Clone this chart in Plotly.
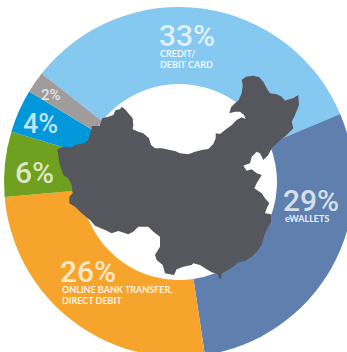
import plotly.graph_objects as go

# Payment method shares, clockwise from credit/debit card
methods = ["Credit/Debit Card", "eWallets", "Online Bank Transfer, Direct Debit", "Other A", "Other B", "Other C"]
shares = [33, 29, 26, 6, 4, 2]
slice_colors = ["#85C8F0", "#5F7FAF", "#F7A42C", "#6FA01F", "#0098DB", "#A09C9C"]

FIG_W = 358
FIG_H = 364
PIE_R = 175
MAP_COLOR = "#55575C"

# China silhouette, in figure pixels from the top-left corner
map_x = [57.3, 60, 65, 67, 71.7, 75, 80, 85, 88.3, 89.3, 91.7, 91.7, 99.3, 101, 102.3, 108.3, 113.3, 115.7, 120, 121.7,
         125, 128.3, 132.7, 133.3, 132.7, 138.3, 143.3, 149, 151, 155, 161.7, 170, 175, 180, 188.3, 195, 201.7, 208.3,
         213.3, 215.7, 215.7, 220, 225, 231.7, 236.7, 241.7, 245.7, 244, 240, 235, 229.3, 231, 235, 238.3, 241.7, 242.7,
         241.7, 246, 253.3, 259.3, 263.3, 266.7, 270, 276.7, 281.7, 285, 286.7, 293, 298.3, 299, 295, 291.7, 293.3,
         286.7, 278.3, 271.7, 268.3, 263.3, 260, 256.7, 251.7, 250, 243.3, 246.7, 251.7, 256.7, 261.7, 256.7, 254.3,
         261.7, 265, 269.3, 266.7, 265, 271, 271, 268.3, 264.3, 261.7, 257.3, 251.7, 245, 238.3, 233.3, 225, 221.7,
         221, 219, 217.7, 211.7, 205, 200, 193.3, 191.7, 183.3, 176.7, 174, 170, 165, 162.7, 156.7, 155, 160, 160,
         153.3, 148.3, 138.3, 133.3, 128.3, 118.3, 111.7, 105, 95, 90, 81.7, 75, 69.3, 69.3, 72.7, 71.7, 68.3, 63.3,
         59.3, 58.3]
map_y = [150, 147.7, 146.7, 147, 147.3, 145, 144, 142.7, 140, 135.7, 129.3, 126, 126, 121.7, 118.3, 116.7, 115, 110, 109.3, 106.7,
         109.3, 113.3, 118.3, 125, 129.3, 131.7, 133.3, 138.3, 145, 148.3, 148.3, 150, 151, 153.3, 154.3, 151.7, 150, 149,
         144, 138.3, 133.3, 134, 130, 125, 120, 117.3, 119, 115, 111.7, 111.7, 113.3, 107.3, 103.3, 100.7, 93.3, 85,
         80, 76.7, 75.7, 77.3, 81.7, 88.3, 93.3, 94.3, 96.7, 100.7, 100, 98.3, 95, 105, 115, 121.7, 128.3,
         135, 141.7, 148.3, 155, 160, 153.3, 151.7, 156.7, 163.3, 165.7, 170.7, 169.3, 173.3, 175, 183.3, 188.3,
         193.3, 198.3, 203.3, 208.3, 213.3, 214.3, 221.7, 226.7, 235, 245, 251, 256.7, 261, 262.3, 266.7, 271.7, 273.3,
         279, 278.3, 274, 272.3, 268.3, 265, 263.3, 265, 266.7, 269.3, 275, 274.3, 273.3, 265, 260, 255, 246.7, 236.7,
         231.7, 226.7, 226.7, 231.7, 234.3, 231, 233.3, 230, 225.7, 220, 213.3, 206.7, 203.3, 196.7, 193.3, 185, 178.3, 175,
         163, 155]

# Label text, size and pixel position (left edge, vertical centre)
big_labels = ["33%", "29%", "26%", "6%", "4%", "2%"]
big_sizes = [30, 30, 30, 30, 27, 15]
big_x = [158, 282, 59, 14, 22, 40]
big_y = [36, 200, 271, 172, 124, 95]
small_labels = ["CREDIT/", "DEBIT CARD", "eWALLETS", "ONLINE BANK TRANSFER,", "DIRECT DEBIT"]
small_x = [159, 159, 284, 61, 61]
small_y = [53, 64, 218, 289, 300]


def fx(px):
    return px / FIG_W


def fy(py):
    return 1 - py / FIG_H


map_path = "M " + " L ".join(f"{fx(x):.5f},{fy(y):.5f}" for x, y in zip(map_x, map_y)) + " Z"

fig = go.Figure(
    go.Pie(
        labels=methods,
        values=shares,
        hole=0.56,
        sort=False,
        direction="clockwise",
        rotation=308.3,
        marker=dict(colors=slice_colors, line=dict(width=0)),
        textinfo="none",
        hoverinfo="label+percent",
        domain=dict(x=[fx(179 - PIE_R), fx(179 + PIE_R)], y=[fy(182 + PIE_R), fy(182 - PIE_R)]),
    )
)

annotations = []
for text, size, x, y in zip(big_labels, big_sizes, big_x, big_y):
    annotations.append(dict(
        text=text, x=fx(x), y=fy(y), xref="paper", yref="paper", xanchor="left", yanchor="middle",
        showarrow=False, borderpad=0, font=dict(family="Roboto", size=size, weight=500, color="rgba(255,255,255,0.75)"),
    ))
for text, x, y in zip(small_labels, small_x, small_y):
    annotations.append(dict(
        text=text, x=fx(x), y=fy(y), xref="paper", yref="paper", xanchor="left", yanchor="middle",
        showarrow=False, borderpad=0, font=dict(family="Lato", size=9, weight=700, color="rgba(255,255,255,0.9)"),
    ))

fig.update_layout(
    width=FIG_W,
    height=FIG_H,
    margin=dict(l=0, r=0, t=0, b=0),
    paper_bgcolor="white",
    showlegend=False,
    shapes=[dict(type="path", path=map_path, xref="paper", yref="paper", layer="above",
                 fillcolor=MAP_COLOR, line=dict(width=0))],
    annotations=annotations,
)

fig.write_html("out.html", config=dict(displayModeBar=False),
               post_script="document.documentElement.style.overflow='hidden';document.body.style.overflow='hidden';")
